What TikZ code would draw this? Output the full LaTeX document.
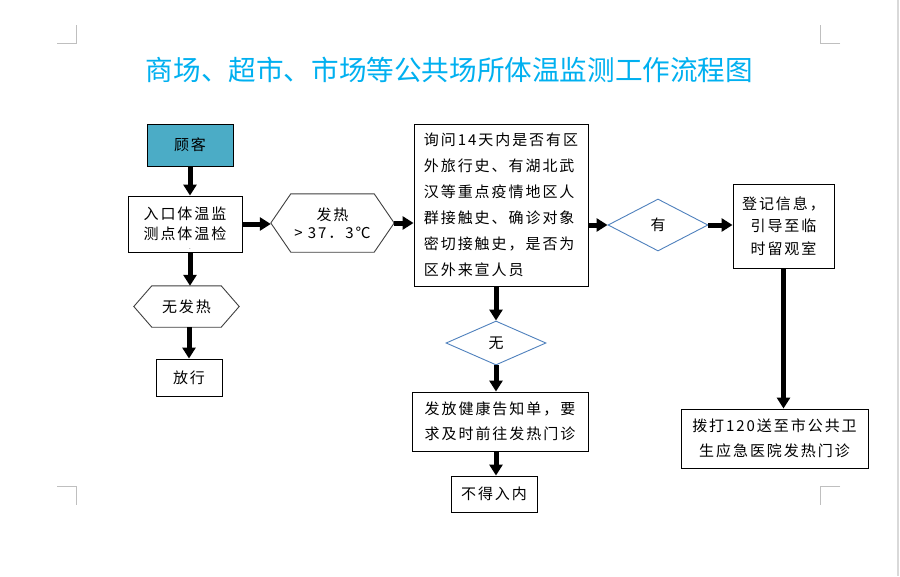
\documentclass[tikz,border=0pt]{standalone}
\usepackage{fontspec}
\usetikzlibrary{arrows.meta,shapes.geometric}
\newfontfamily\cjk[LetterSpace=13]{Noto Sans CJK SC}
\newfontfamily\cjktitle{Noto Sans CJK SC}
\definecolor{titleblue}{HTML}{00B0F0}
\definecolor{tealfill}{HTML}{4BACC6}
\definecolor{diablue}{HTML}{4F81BD}
\definecolor{markgray}{HTML}{BFBFBF}
\definecolor{edgegray}{HTML}{D9D9D9}
\begin{document}
\begin{tikzpicture}[x=1pt,y=-1pt,
  box/.style={draw=black,line width=0.9pt,inner sep=0pt,align=center,font=\cjk\fontsize{15}{25}\selectfont},
  hexnode/.style={inner sep=0pt,align=center,font=\cjk\fontsize{15}{18}\selectfont},
  hexline/.style={draw=black!75,line width=0.9pt},
  dia/.style={diamond,draw=diablue,line width=0.9pt,inner sep=0pt,font=\cjk\fontsize{15}{18}\selectfont},
  flow/.style={line width=5pt,-{Triangle[width=13pt,length=11pt]}},
  cropmark/.style={draw=markgray,line width=1pt}
]
\useasboundingbox (0,0) rectangle (900,576);
\fill[white] (0,0) rectangle (900,576);
\draw[edgegray,line width=2pt] (898,0) -- (898,576);

% crop marks
\draw[cropmark] (57,43) -- (76,43) -- (76,25);
\draw[cropmark] (840,43) -- (820,43) -- (820,25);
\draw[cropmark] (57,486) -- (76,486) -- (76,505);
\draw[cropmark] (840,486) -- (820,486) -- (820,505);

% title
\node[font=\cjktitle\fontsize{27.6}{30}\selectfont,text=titleblue,inner sep=0pt] (title) at (449.5,70) {商场、超市、市场等公共场所体温监测工作流程图};

% left column
\node[box,fill=tealfill,minimum width=86pt,minimum height=42pt] (guke) at (190,145) {顾客};
\node[box,minimum width=114pt,minimum height=56pt,font=\cjk\fontsize{15}{20}\selectfont] (rukou) at (185,224) {入口体温监\\测点体温检};
\node[inner sep=0pt,font=\fontsize{7}{7}\selectfont,anchor=base] (rukoudot) at (190,249) {.};

\node[hexnode,minimum width=105pt,minimum height=41pt] (wufare) at (186.5,306.5) {无发热};
\draw[hexline] (wufare.west) -- ([xshift=18pt]wufare.north west) -- ([xshift=-18pt]wufare.north east) -- (wufare.east) -- ([xshift=-18pt]wufare.south east) -- ([xshift=18pt]wufare.south west) -- cycle;

\node[box,minimum width=66pt,minimum height=37pt] (fangxing) at (189,377.5) {放行};

% fever hexagon
\node[hexnode,minimum width=123pt,minimum height=58pt] (fare) at (332.5,223) {发热\\> 37．3℃};
\draw[hexline] (fare.west) -- ([xshift=20pt]fare.north west) -- ([xshift=-20pt]fare.north east) -- (fare.east) -- ([xshift=-20pt]fare.south east) -- ([xshift=20pt]fare.south west) -- cycle;

% middle column
\node[box,align=left,minimum width=174pt,minimum height=162pt,font=\cjk\fontsize{15}{26}\selectfont] (big) at (501,205) {询问14天内是否有区\\外旅行史、有湖北武\\汉等重点疫情地区人\\群接触史、确诊对象\\密切接触史，是否为\\区外来宣人员};
\node[dia,minimum width=100pt,minimum height=44pt] (wu) at (496,343) {无};
\node[box,minimum width=176pt,minimum height=59pt] (fafang) at (500,421.5) {发放健康告知单，要\\求及时前往发热门诊};
\node[box,minimum width=86pt,minimum height=36pt] (bude) at (494,494) {不得入内};

% right column
\node[dia,minimum width=100pt,minimum height=52pt] (you) at (658,225) {有};
\node[box,minimum width=101pt,minimum height=84pt,font=\cjk\fontsize{15}{22.5}\selectfont] (dengji) at (783.5,226) {登记信息，\\引导至临\\时留观室};
\node[box,minimum width=187pt,minimum height=59pt] (boda) at (774.5,438.5) {拨打120送至市公共卫\\生应急医院发热门诊};

% connectors
\draw[flow] (guke.south) -- (guke.south |- rukou.north);
\draw[flow] (rukou.south -| guke.south) -- (wufare.north -| guke.south);
\draw[flow] (wufare.south -| fangxing.north) -- (fangxing.north);
\draw[flow] (rukou.east) -- (rukou.east -| fare.west);
\draw[flow] (fare.east) -- (fare.east -| big.west);
\draw[flow] (big.south -| wu.north) -- (wu.north);
\draw[flow] (wu.south) -- (wu.south |- fafang.north);
\draw[flow] (fafang.south -| wu.south) -- (bude.north -| wu.south);
\draw[flow] (big.east |- you.west) -- (you.west);
\draw[flow] (you.east) -- (you.east -| dengji.west);
\draw[flow] (dengji.south) -- (dengji.south |- boda.north);
\end{tikzpicture}
\end{document}
